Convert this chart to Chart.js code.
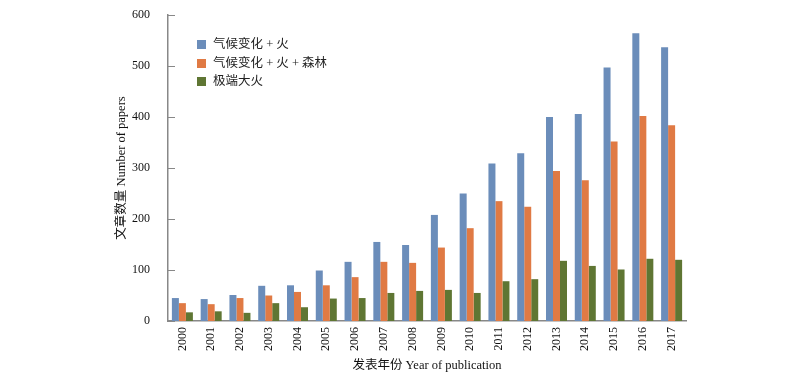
<!DOCTYPE html>
<html>
<head>
<meta charset="utf-8">
<script src="https://cdn.jsdelivr.net/npm/chart.js@4/dist/chart.umd.min.js"></script>
<style>
html,body{margin:0;padding:0;background:#fff;}
#wrap{position:relative;width:800px;height:381px;}
#legend{position:absolute;left:197px;top:35px;font-family:'Liberation Serif','Noto Sans CJK SC',serif;font-size:12.5px;color:#222;}
#legend div{height:18.5px;line-height:18px;white-space:nowrap;}
#legend span.sw{display:inline-block;width:9px;height:9px;margin-right:7px;vertical-align:-1px;}
</style>
</head>
<body>
<div id="wrap">
<canvas id="c" width="800" height="381"></canvas>
<div id="legend"></div>
</div>
<script>
const categories = ['2000','2001','2002','2003','2004','2005','2006','2007','2008','2009','2010','2011','2012','2013','2014','2015','2016','2017'];
const seriesNames = ['气候变化 + 火','气候变化 + 火 + 森林','极端大火'];
const climateFire = [45,43,51,69,70,99,116,155,149,208,250,309,329,400,406,497,564,537];
const climateFireForest = [35,33,45,50,57,70,86,116,114,144,182,235,224,294,276,352,402,384];
const extremeFire = [17,19,16,35,27,44,45,55,59,61,55,78,82,118,108,101,122,120];
const yTicks = [0,100,200,300,400,500,600];
const colors = ['#6b8dba','#e07a44','#5f7633'];

const FONT = "'Liberation Serif','Times New Roman','Noto Sans CJK SC',serif";

const innerTicks = {
  id:'innerTicks',
  afterDraw(chart){
    const y = chart.scales.y, ctx = chart.ctx;
    ctx.save();
    ctx.strokeStyle = '#888';
    ctx.lineWidth = 1;
    y.ticks.forEach(t=>{
      const py = Math.round(y.getPixelForValue(t.value))+0.5;
      ctx.beginPath();
      ctx.moveTo(y.right, py);
      ctx.lineTo(y.right+7, py);
      ctx.stroke();
    });
    ctx.restore();
  }
};

const data = [climateFire, climateFireForest, extremeFire];
new Chart(document.getElementById('c'), {
  type:'bar',
  data:{
    labels:categories,
    datasets:data.map((d,i)=>({label:seriesNames[i],data:d,backgroundColor:colors[i],borderWidth:0,barPercentage:1.0,categoryPercentage:0.73}))
  },
  options:{
    responsive:false,
    animation:false,
    layout:{padding:{left:114,right:114,top:15,bottom:8}},
    plugins:{legend:{display:false},tooltip:{enabled:false}},
    scales:{
      x:{
        grid:{display:false,drawTicks:false,tickLength:0},
        border:{display:true,color:'#888',width:1.5},
        ticks:{color:'#111',font:{family:FONT,size:12},minRotation:90,maxRotation:90,padding:6},
        title:{display:true,text:'发表年份 Year of publication',color:'#111',font:{family:FONT,size:12.5},padding:{top:0,bottom:0}},
        afterFit(s){s.height = 52;}
      },
      y:{
        min:0,max:600,
        afterBuildTicks(s){s.ticks = yTicks.map(v=>({value:v}));},
        grid:{display:false,drawTicks:false,tickLength:0},
        border:{display:true,color:'#888',width:1.5},
        ticks:{color:'#111',font:{family:FONT,size:12},padding:18},
        title:{display:true,text:'文章数量 Number of papers',color:'#111',font:{family:FONT,size:12.5},padding:{top:0,bottom:3}},
        afterFit(s){s.width = 54; s.paddingTop = 0; s.paddingBottom = 0;}
      }
    }
  },
  plugins:[innerTicks]
});

const lg = document.getElementById('legend');
seriesNames.forEach((n,i)=>{
  const d = document.createElement('div');
  const sw = document.createElement('span');
  sw.className='sw'; sw.style.background=colors[i];
  d.appendChild(sw);
  d.appendChild(document.createTextNode(n));
  lg.appendChild(d);
});
</script>
</body>
</html>
